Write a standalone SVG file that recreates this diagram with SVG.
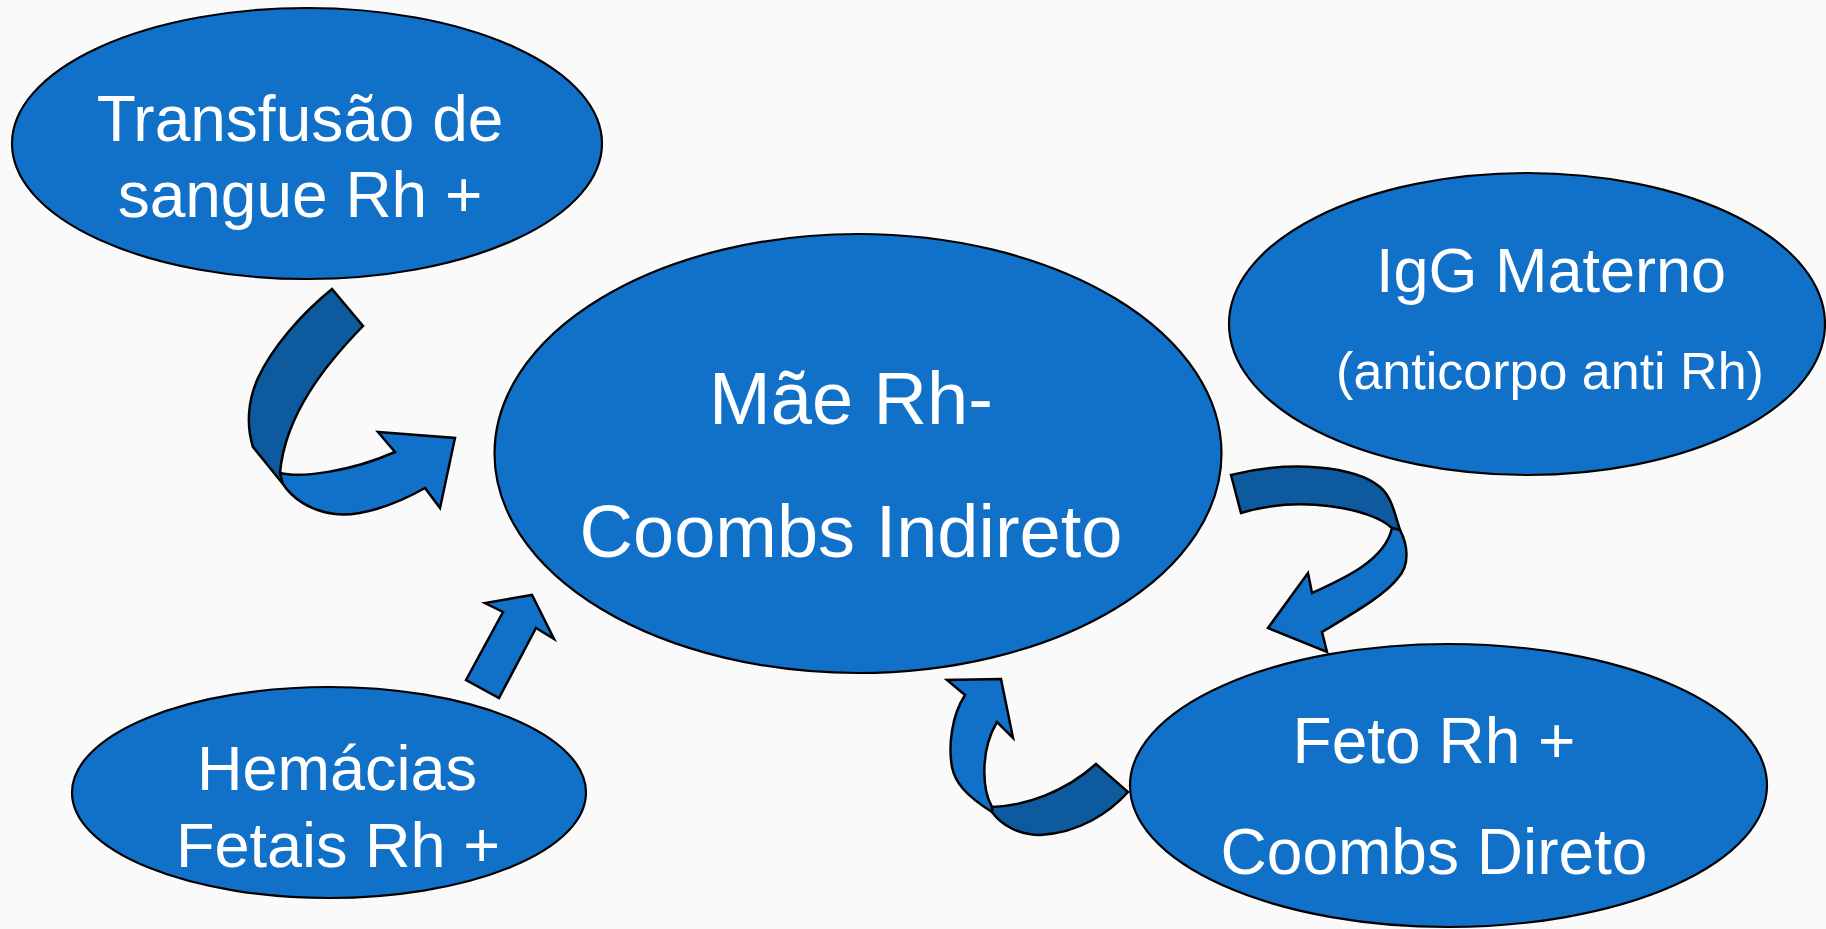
<svg xmlns="http://www.w3.org/2000/svg" width="1826" height="929" viewBox="0 0 1826 929">
<style>
.node{fill:#1170C7;stroke:#000;stroke-width:2.2}
.arr{fill:#1170C7;stroke:#000;stroke-width:2.5;stroke-linejoin:miter}
.back{fill:#0E5A9E;stroke:#000;stroke-width:2.5;stroke-linejoin:miter}
text{font-family:"Liberation Sans",Arial,sans-serif;fill:#fff;text-anchor:middle}
</style>
<rect width="1826" height="929" fill="#fafafa"/>
<g id="n-transfusao">
<ellipse class="node" cx="307" cy="143.5" rx="295" ry="135.5"/>
<text x="300" y="141" font-size="64">Transfusão de</text>
<text x="300" y="217" font-size="64">sangue Rh +</text>
</g>
<g id="n-mae">
<ellipse class="node" cx="858" cy="453.5" rx="363.5" ry="219.5"/>
<text x="851" y="424" font-size="74">Mãe Rh-</text>
<text x="851" y="557" font-size="74">Coombs Indireto</text>
</g>
<g id="n-igg">
<ellipse class="node" cx="1527" cy="324" rx="298" ry="151"/>
<text x="1551" y="292" font-size="63">IgG Materno</text>
<text x="1550" y="389" font-size="52">(anticorpo anti Rh)</text>
</g>
<g id="n-hemacias">
<ellipse class="node" cx="329" cy="792.5" rx="257" ry="105.5"/>
<text x="337" y="790" font-size="63">Hemácias</text>
<text x="338" y="867" font-size="63">Fetais Rh +</text>
</g>
<g id="n-feto">
<ellipse class="node" cx="1448.5" cy="785.5" rx="318.5" ry="141.5"/>
<text x="1434" y="763" font-size="64">Feto Rh +</text>
<text x="1434" y="874" font-size="64">Coombs Direto</text>
</g>
<g id="connectors">
<g id="a-transfusao-mae">
<path class="back" d="M332,289 L363,326 C325,365 285,415 280,473 L283,484 L253,447 C246,425 248,400 258,378 C272,348 300,315 332,289 Z"/>
<path class="arr" d="M280,473 C300,478 350,472 395,452 L378,432 L455,438 L440,508 L425,488 C395,505 360,517 335,514 C310,511 292,498 283,484 Z"/>
</g>
<g id="a-mae-feto">
<path class="back" d="M1231,475 C1290,460 1355,466 1380,487 C1392,497 1395,515 1400,530 L1392,528 C1370,508 1300,495 1241,513 Z"/>
<path class="arr" d="M1392,528 L1400,530 C1408,545 1410,565 1398,578 C1385,595 1355,612 1322,632 L1327,652 L1268,628 L1308,573 L1312,593 C1345,578 1385,560 1392,528 Z"/>
</g>
<g id="a-feto-mae">
<path class="back" d="M1096,764 L1128,792 C1110,812 1080,833 1040,835 C1020,835 1002,826 992,812 L992,807 C1025,806 1065,792 1096,764 Z"/>
<path class="arr" d="M992,807 C982,790 980,750 997,722 L1013,738 L1001,679 L947,680 L965,695 C952,715 948,745 952,767 C955,782 965,795 992,812 Z"/>
</g>
<g id="a-hemacias-mae">
<path class="arr" d="M466,680 L503,612 L485,603 L532,595 L554,639 L536,628 L499,698 Z"/>
</g>
</g>
</svg>
